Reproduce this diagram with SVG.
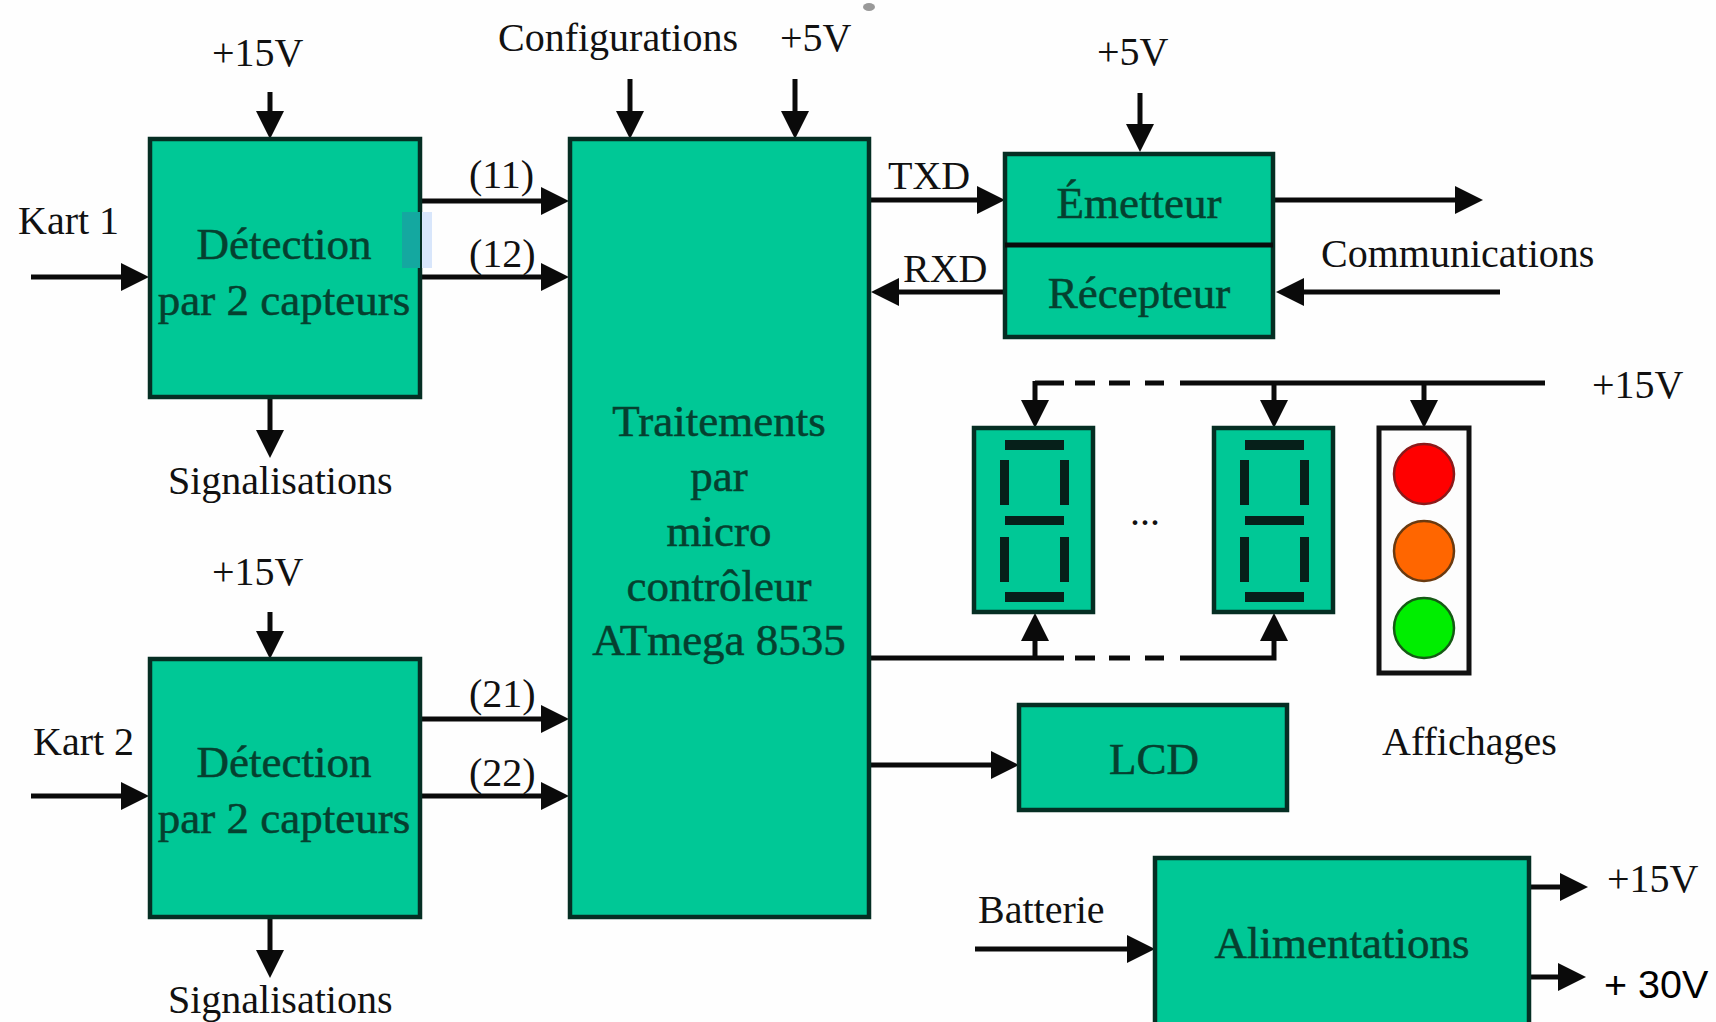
<svg xmlns="http://www.w3.org/2000/svg" width="1716" height="1022" viewBox="0 0 1716 1022">
<style>
.b{fill:#00c896;stroke:#052e23;stroke-width:4.5}
.w{fill:#fdfdfd;stroke:#111;stroke-width:5}
.t{font-family:"Liberation Serif","Times New Roman",serif;fill:#111;font-size:40px}
.n{font-family:"Liberation Serif","Times New Roman",serif;fill:#05402f;stroke:#05402f;stroke-width:.5;font-size:45px;text-anchor:middle}
.c{fill:none;stroke:#0a0a0a;stroke-width:5}
.a{marker-end:url(#h)}
.s{fill:#06201a}
</style>
<defs>
<marker id="h" markerUnits="userSpaceOnUse" markerWidth="30" markerHeight="30" refX="21" refY="15" orient="auto"><path d="M0 1L28 15L0 29Z" fill="#0a0a0a"/></marker>
<g id="digit">
<rect x="32" y="12" width="59" height="10"/><rect x="27" y="32" width="9" height="45"/><rect x="87" y="32" width="9" height="45"/>
<rect x="32" y="88" width="59" height="9"/><rect x="27" y="109" width="9" height="45"/><rect x="87" y="109" width="9" height="45"/>
<rect x="32" y="164" width="59" height="10"/>
</g>
</defs>
<rect width="1716" height="1022" fill="#fefefe"/>
<ellipse cx="869" cy="7" rx="6" ry="4" fill="#999"/>
<g id="connectors">
<path class="c a" d="M270 92V132"/><path class="c a" d="M31 277H142"/><path class="c a" d="M270 398V451"/>
<path class="c a" d="M421 201H562"/><path class="c a" d="M421 277H562"/>
<path class="c a" d="M270 612V652"/><path class="c a" d="M31 796H142"/><path class="c a" d="M270 918V971"/>
<path class="c a" d="M421 719H562"/><path class="c a" d="M421 796H562"/>
<path class="c a" d="M630 79V132"/><path class="c a" d="M795 79V132"/>
<path class="c a" d="M869 200H998"/><path class="c a" d="M1005 292H878"/>
<path class="c a" d="M1140 93V145"/><path class="c a" d="M1274 200H1476"/><path class="c a" d="M1500 292H1283"/>
<path class="c" d="M1545 383H1180"/><path class="c" d="M1164 383H1145M1130 383H1109M1095 383H1075M1064 383H1035"/><path class="c a" d="M1035 381V421"/>
<path class="c a" d="M1274 383V421"/><path class="c a" d="M1424 383V421"/>
<path class="c" d="M869 658H1064M1075 658H1095M1109 658H1130M1145 658H1164"/><path class="c a" d="M1180 658H1274V620"/><path class="c a" d="M1035 658V620"/>
<path class="c a" d="M869 765H1012"/>
<path class="c a" d="M975 949H1148"/><path class="c a" d="M1529 887H1581"/><path class="c a" d="M1529 977H1579"/>
</g>
<g id="det1"><rect class="b" x="150" y="139" width="270" height="258"/><text class="n" x="284" y="259">Détection</text><text class="n" x="284" y="315">par 2 capteurs</text><rect x="402" y="212" width="18" height="56" fill="#14a8a0"/><rect x="422" y="212" width="10" height="56" fill="#d8e6fb"/></g>
<g id="det2"><rect class="b" x="150" y="659" width="270" height="258"/><text class="n" x="284" y="777">Détection</text><text class="n" x="284" y="833">par 2 capteurs</text></g>
<g id="mcu"><rect class="b" x="570" y="139" width="299" height="778"/><text class="n" x="719" y="436">Traitements</text><text class="n" x="719" y="491">par</text><text class="n" x="719" y="546">micro</text><text class="n" x="719" y="601">contrôleur</text><text class="n" x="719" y="655">ATmega 8535</text></g>
<g id="radio"><rect class="b" x="1005" y="154" width="268" height="183"/><path class="c" d="M1005 245H1273"/><text class="n" x="1139" y="218">Émetteur</text><text class="n" x="1139" y="308">Récepteur</text></g>
<g id="disp1"><rect class="b" x="974" y="428" width="119" height="184"/><use href="#digit" x="973" y="428" class="s"/></g>
<g id="disp2"><rect class="b" x="1214" y="428" width="119" height="184"/><use href="#digit" x="1213" y="428" class="s"/></g>
<g id="feu"><rect class="w" x="1379" y="428" width="90" height="245"/><circle cx="1424" cy="474" r="30" fill="#f00" stroke="#8a1a1a" stroke-width="2.5"/><circle cx="1424" cy="551" r="30" fill="#f60" stroke="#6a3a10" stroke-width="2.5"/><circle cx="1424" cy="628" r="30" fill="#0e0" stroke="#155a15" stroke-width="2.5"/></g>
<g id="lcd"><rect class="b" x="1019" y="705" width="268" height="105"/><text class="n" x="1154" y="774">LCD</text></g>
<g id="alim"><rect class="b" x="1155" y="858" width="374" height="170"/><text class="n" x="1342" y="958">Alimentations</text></g>
<g id="labels">
<text class="t" x="212" y="66">+15V</text><text class="t" x="212" y="585">+15V</text>
<text class="t" x="498" y="51">Configurations</text><text class="t" x="780" y="51">+5V</text><text class="t" x="1097" y="65">+5V</text>
<text class="t" x="18" y="234">Kart 1</text><text class="t" x="33" y="755">Kart 2</text>
<text class="t" x="168" y="494">Signalisations</text><text class="t" x="168" y="1013">Signalisations</text>
<text class="t" x="469" y="188">(11)</text><text class="t" x="469" y="267">(12)</text><text class="t" x="469" y="707">(21)</text><text class="t" x="469" y="786">(22)</text>
<text class="t" x="888" y="189">TXD</text><text class="t" x="903" y="282">RXD</text>
<text class="t" x="1321" y="267">Communications</text><text class="t" x="1592" y="398">+15V</text>
<text class="t" x="1130" y="525">...</text><text class="t" x="1382" y="755">Affichages</text>
<text class="t" x="978" y="923">Batterie</text><text class="t" x="1607" y="892">+15V</text>
<text x="1604" y="998" font-family="'Liberation Sans',Arial,sans-serif" font-size="39.500" fill="#000">+ 30V</text>
</g>
</svg>
